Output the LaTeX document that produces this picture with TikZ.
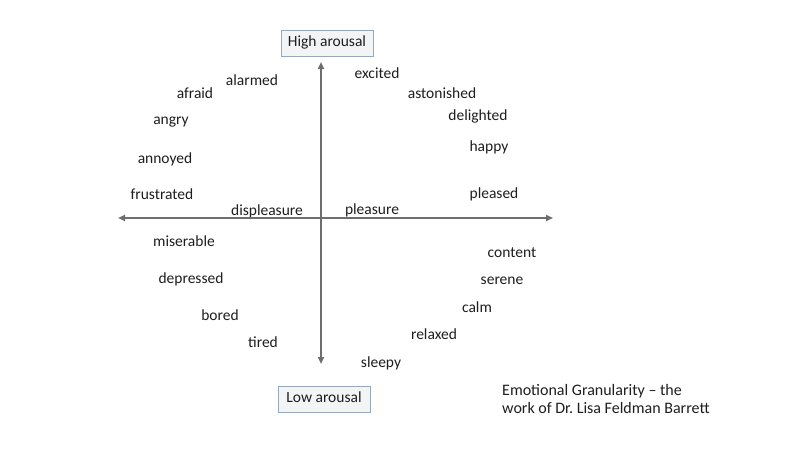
\documentclass[tikz,border=0pt]{standalone}
\usepackage{fontspec}
\setmainfont{Carlito}
\usetikzlibrary{arrows.meta}
\definecolor{axisgray}{RGB}{110,110,110}
\definecolor{wordgray}{RGB}{30,30,30}
\definecolor{boxline}{RGB}{150,168,192}
\definecolor{boxfill}{RGB}{243,244,246}
\tikzset{
  word/.style={text=wordgray, inner sep=0pt, text height=0.7em, text depth=0.1em,
    yshift=-2pt, font=\fontsize{15.5}{18}\selectfont},
  pole/.style={word, yshift=0pt, draw=boxline, fill=boxfill, line width=0.8pt,
    minimum width=92pt, minimum height=26pt},
  axis/.style={draw=axisgray, line width=1.8pt,
    {Triangle[length=7pt,width=6pt]}-{Triangle[length=7pt,width=6pt]}}
}
\begin{document}
\begin{tikzpicture}[x=1pt,y=-1pt]
      \useasboundingbox (0,0) rectangle (800,450);
      \fill[white] (0,0) rectangle (800,450);
      \coordinate (W) at (118,218);
      \coordinate (E) at (553,218);
      \coordinate (N) at (321,62);
      \coordinate (S) at (321,364);
      \node[pole] (high) at (327,41) {High arousal};
      \node[pole] (low) at (324,397) {Low arousal};
      \draw
        (252,80) node[word] (alarmed){alarmed}
        (195,93) node[word] (afraid){afraid}
        (171,119) node[word] (angry){angry}
        (165,158) node[word] (annoyed){annoyed}
        (162,194) node[word] (frustrated){frustrated}
        (267,210) node[word] (displeasure){displeasure}
        (372,209) node[word] (pleasure){pleasure}
        (377,73) node[word] (excited){excited}
        (442,93) node[word] (astonished){astonished}
        (478,115) node[word] (delighted){delighted}
        (489,146) node[word] (happy){happy}
        (494,193) node[word] (pleased){pleased}
        (184,241) node[word] (miserable){miserable}
        (191,278) node[word] (depressed){depressed}
        (220,315) node[word] (bored){bored}
        (263,342) node[word] (tired){tired}
        (381,362) node[word] (sleepy){sleepy}
        (434,334) node[word] (relaxed){relaxed}
        (477,307) node[word] (calm){calm}
        (502,279) node[word] (serene){serene}
        (512,252) node[word] (content){content};
      \node[word, anchor=north west, align=left, text height=, text depth=, yshift=0pt,
        font=\fontsize{16}{18.5}\selectfont\frenchspacing] (credit) at (502,382)
        {Emotional Granularity -- the\\work of Dr. Lisa Feldman Barrett};
      \begin{scope}[axis]
        \draw (W) to (E);
        \draw (N) to (S);
      \end{scope}
    \end{tikzpicture}
\end{document}
